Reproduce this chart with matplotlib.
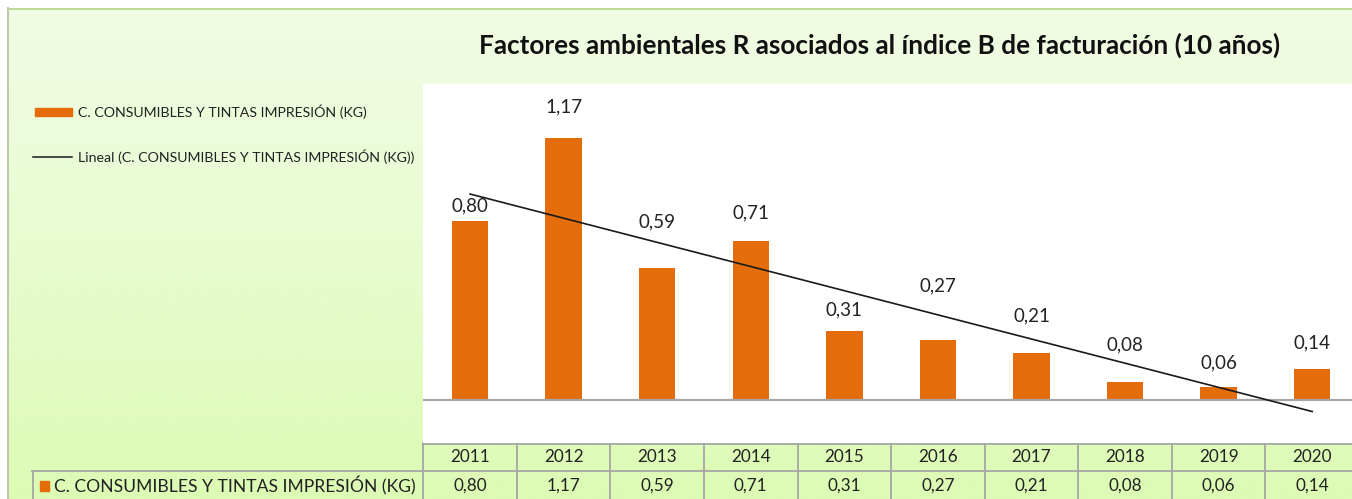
import numpy as np
import matplotlib
matplotlib.use("Agg")
import matplotlib.pyplot as plt
import matplotlib.transforms as mtransforms
from matplotlib.colors import LinearSegmentedColormap

# ---- data ----
years = ["2011", "2012", "2013", "2014", "2015", "2016", "2017", "2018", "2019", "2020"]
values = [0.80, 1.17, 0.59, 0.71, 0.31, 0.27, 0.21, 0.08, 0.06, 0.14]
series_name = "C. CONSUMIBLES Y TINTAS IMPRESIÓN (KG)"
trend_name = "Lineal (C. CONSUMIBLES Y TINTAS IMPRESIÓN (KG))"
title = "Factores ambientales R asociados al índice B de facturación (10 años)"

# label placement (style): pixels above bar top
label_offsets_px = [15, 31, 46, 28, 21, 54, 37, 37, 24, 26]

FONT = ["Lato", "DejaVu Sans"]
plt.rcParams["font.family"] = FONT
ORANGE = "#E46C0A"
GRID = "#A6A6A6"
TXT = "#222222"

W, H = 1352, 499
fig = plt.figure(figsize=(W / 100, H / 100), dpi=100)
fig.patch.set_facecolor("white")

# background axes in pixel coordinates
bg = fig.add_axes([0, 0, 1, 1])
bg.set_xlim(0, W)
bg.set_ylim(H, 0)
bg.axis("off")
cmap = LinearSegmentedColormap.from_list("g", ["#F1FCE4", "#E8FBD0", "#DCFBB4"])
grad = np.linspace(0, 1, 256).reshape(-1, 1)
bg.imshow(grad, cmap=cmap, aspect="auto", extent=(8, W, H, 8), zorder=0)
bg.plot([8, W], [8.5, 8.5], color="#B5D38A", lw=1.2, zorder=1)
bg.plot([7.5, 7.5], [8, H], color="#BFC9B0", lw=1.5, zorder=1)
bg.set_xlim(0, W)
bg.set_ylim(H, 0)

# title
bg.text(880, 45, title, ha="center", va="center", fontsize=18.8, fontweight="bold",
        color="#111111", zorder=3)

# legend
bg.add_patch(plt.Rectangle((35, 107.5), 37, 8, color=ORANGE, zorder=3))
bg.text(78, 111.5, series_name, ha="left", va="center", fontsize=10.2, color=TXT, zorder=3)
bg.plot([33, 72], [157, 157], color="#1a1a1a", lw=1.1, zorder=3)
bg.text(78, 157, trend_name, ha="left", va="center", fontsize=10.2, color=TXT, zorder=3)

# main plot axes
left_px, right_px, top_px, bottom_px = 423.3, 1359, 84, 443
ax = fig.add_axes([left_px / W, (H - bottom_px) / H, (right_px - left_px) / W,
                   (bottom_px - top_px) / H])
ax.set_facecolor("white")
x = np.arange(len(years))
ax.bar(x, values, width=0.39, color=ORANGE, zorder=2)
ax.axhline(0, color=GRID, lw=1.6, zorder=3)
coef = np.polyfit(x + 1, values, 1)
trend = np.polyval(coef, x + 1)
ax.plot([x[0], x[-1]], [trend[0], trend[-1]], color="#1a1a1a", lw=1.2, zorder=4)
for xi, v, off in zip(x, values, label_offsets_px):
    ax.annotate(f"{v:.2f}".replace(".", ","), (xi, v), xytext=(0, off),
                textcoords="offset pixels", ha="center", va="center",
                fontsize=13.5, color=TXT, zorder=5)
ax.set_xlim(-0.5, len(years) - 0.5)
ax.set_ylim(-43 / 224, 316 / 224)
ax.set_xticks([])
ax.set_yticks([])
for s in ax.spines.values():
    s.set_visible(False)

# data table below the plot
tr = mtransforms.blended_transform_factory(ax.transData, bg.transData)
for i in range(len(years) + 1):
    bg.plot([i - 0.5, i - 0.5], [443, H + 2], color=GRID, lw=1.3, transform=tr,
            clip_on=False, zorder=3)
bg.plot([-0.5, len(years) - 0.5], [443.5, 443.5], color=GRID, lw=1.3, transform=tr,
        clip_on=False, zorder=3)
bg.plot([32, W], [471, 471], color=GRID, lw=1.3, zorder=3)
bg.plot([32.5, 32.5], [471, H + 2], color=GRID, lw=1.3, zorder=3)
for i, (yr, v) in enumerate(zip(years, values)):
    bg.text(i, 457.5, yr, ha="center", va="center", fontsize=12.3, color=TXT,
            transform=tr, zorder=4)
    bg.text(i, 485.5, f"{v:.2f}".replace(".", ","), ha="center", va="center",
            fontsize=12.3, color=TXT, transform=tr, zorder=4)
bg.add_patch(plt.Rectangle((40, 480.5), 9, 10, color=ORANGE, zorder=4))
bg.text(54, 485.5, series_name, ha="left", va="center", fontsize=12.6, color=TXT, zorder=4)

fig.savefig("out.png", dpi=100)
